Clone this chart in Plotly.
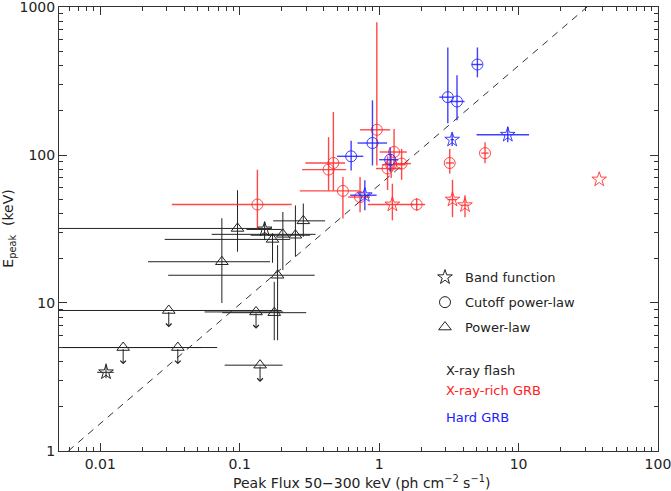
import numpy as np
import plotly.graph_objects as go

# ---- X-ray flashes (black) ----
xrf_band_x = [0.011, 0.151]
xrf_band_xlo = [0.0095, 0.112]
xrf_band_xhi = [0.0125, 0.20]
xrf_band_y = [3.4, 31.4]
xrf_band_ylo = [3.1, 26.6]
xrf_band_yhi = [3.9, 35.5]

xrf_pl_x = [0.0965, 0.172, 0.204, 0.251, 0.286, 0.0745, 0.187, 0.177]
xrf_pl_xlo = [0.001, 0.029, 0.063, 0.12, 0.174, 0.022, 0.0307, 0.075]
xrf_pl_xhi = [0.17, 0.23, 0.35, 0.32, 0.41, 0.165, 0.345, 0.30]
xrf_pl_y = [31.9, 26.9, 29.1, 28.7, 35.9, 19.0, 15.4, 8.6]
xrf_pl_ylo = [22.2, 18.7, 16.7, 20.6, 28.0, 10.0, 5.6, 5.6]
xrf_pl_yhi = [57.8, 29.6, 41.2, 45.6, 47.0, 37.4, 24.6, 13.9]

# power-law upper limits
xrf_ul_x = [0.0146, 0.036, 0.031, 0.131, 0.140]
xrf_ul_xlo = [0.001, 0.001, 0.001, 0.056, 0.078]
xrf_ul_xhi = [0.054, 0.069, 0.20, 0.205, 0.203]
xrf_ul_y = [5.0, 5.0, 8.9, 8.7, 3.8]

# ---- X-ray-rich GRBs (red) ----
xrr_cpl_x = [0.134, 0.963, 0.47, 0.434, 0.55, 0.73, 1.86, 1.28, 1.45, 1.15, 1.22, 5.75, 3.21]
xrr_cpl_xlo = [0.0326, 0.73, 0.296, 0.28, 0.27, 0.60, 1.69, 1.01, 1.26, 0.95, 1.05, 5.4, 3.0]
xrr_cpl_xhi = [0.236, 1.2, 0.57, 0.58, 0.72, 0.86, 2.14, 1.58, 1.69, 1.45, 1.55, 6.1, 3.45]
xrr_cpl_y = [46.3, 148.0, 88.3, 79.7, 57.2, 52.0, 46.3, 104.8, 87.5, 81.0, 86.0, 103.0, 88.3]
xrr_cpl_ylo = [31.9, 85.0, 57.5, 57.5, 37.3, 41.0, 42.0, 80.0, 68.0, 58.0, 70.0, 88.0, 75.0]
xrr_cpl_yhi = [79.5, 788.0, 195.0, 132.0, 71.0, 71.0, 51.0, 150.0, 110.0, 98.0, 102.0, 122.0, 110.0]

xrr_band_x = [1.245, 3.36, 4.13, 37.9]
xrr_band_xlo = [0.83, 3.1, 3.85, 37.9]
xrr_band_xhi = [1.75, 3.6, 4.4, 37.9]
xrr_band_y = [46.3, 50.0, 45.8, 68.3]
xrr_band_ylo = [36.2, 38.0, 38.0, 68.3]
xrr_band_yhi = [64.0, 68.0, 53.5, 68.3]

# ---- Hard GRBs (blue) ----
hard_cpl_x = [5.07, 3.11, 3.62, 0.63, 0.896, 1.2]
hard_cpl_xlo = [4.6, 2.7, 3.2, 0.5, 0.70, 1.0]
hard_cpl_xhi = [5.5, 3.4, 4.1, 0.77, 1.14, 1.37]
hard_cpl_y = [409.0, 246.0, 230.0, 98.0, 120.5, 93.0]
hard_cpl_ylo = [335.0, 164.0, 172.0, 78.7, 85.0, 77.0]
hard_cpl_yhi = [533.0, 533.0, 346.0, 125.0, 234.0, 113.0]

hard_band_x = [0.79, 3.34, 8.37]
hard_band_xlo = [0.62, 3.25, 5.0]
hard_band_xhi = [0.96, 3.45, 11.9]
hard_band_y = [53.5, 127.0, 137.0]
hard_band_ylo = [42.4, 115.0, 122.0]
hard_band_yhi = [67.5, 140.0, 156.0]

# dashed reference line
diag_x = [0.0059, 31.0]
diag_y = [1.0, 1000.0]

BLACK = '#222222'
RED = 'rgba(255,40,40,0.85)'
BLUE = 'rgba(30,30,255,0.85)'
FONT = 'DejaVu Sans'

fig = go.Figure()

fig.add_trace(go.Scatter(x=diag_x, y=diag_y, mode='lines',
                         line=dict(color='#333333', width=1, dash='7px,6px'),
                         showlegend=False, hoverinfo='skip'))


def add_points(x, xlo, xhi, y, ylo, yhi, symbol, color, size, thick):
    x = np.array(x); xlo = np.array(xlo); xhi = np.array(xhi)
    y = np.array(y); ylo = np.array(ylo); yhi = np.array(yhi)
    fig.add_trace(go.Scatter(
        x=x, y=y, mode='markers',
        marker=dict(symbol=symbol, size=size, color=color, line=dict(width=1)),
        error_x=dict(type='data', symmetric=False, array=xhi - x, arrayminus=x - xlo,
                     color=color, thickness=thick, width=0),
        error_y=dict(type='data', symmetric=False, array=yhi - y, arrayminus=y - ylo,
                     color=color, thickness=thick, width=0),
        showlegend=False, hoverinfo='skip'))


add_points(xrf_band_x, xrf_band_xlo, xrf_band_xhi, xrf_band_y, xrf_band_ylo, xrf_band_yhi,
           'star-open', BLACK, 11, 1)
add_points(xrf_pl_x, xrf_pl_xlo, xrf_pl_xhi, xrf_pl_y, xrf_pl_ylo, xrf_pl_yhi,
           'triangle-up-open', BLACK, 11, 1)
add_points(xrf_ul_x, xrf_ul_xlo, xrf_ul_xhi, xrf_ul_y, xrf_ul_y, xrf_ul_y,
           'triangle-up-open', BLACK, 11, 1)
add_points(xrr_cpl_x, xrr_cpl_xlo, xrr_cpl_xhi, xrr_cpl_y, xrr_cpl_ylo, xrr_cpl_yhi,
           'circle-open', RED, 11, 1.4)
add_points(xrr_band_x, xrr_band_xlo, xrr_band_xhi, xrr_band_y, xrr_band_ylo, xrr_band_yhi,
           'star-open', RED, 11, 1.4)
add_points(hard_cpl_x, hard_cpl_xlo, hard_cpl_xhi, hard_cpl_y, hard_cpl_ylo, hard_cpl_yhi,
           'circle-open', BLUE, 11, 1.4)
add_points(hard_band_x, hard_band_xlo, hard_band_xhi, hard_band_y, hard_band_ylo, hard_band_yhi,
           'star-open', BLUE, 11, 1.4)

# upper-limit arrows
for xv, yv in zip(xrf_ul_x, xrf_ul_y):
    fig.add_annotation(x=np.log10(xv), y=np.log10(yv * 0.77), ax=np.log10(xv), ay=np.log10(yv),
                       xref='x', yref='y', axref='x', ayref='y', text='', showarrow=True,
                       arrowhead=4, arrowsize=1.1, arrowwidth=1, arrowcolor=BLACK, standoff=0)

# legend entries (symbols)
for i, (name, sym) in enumerate([('Band function', 'star-open'), ('Cutoff power-law', 'circle-open'),
                                 ('Power-law', 'triangle-up-open')]):
    fig.add_trace(go.Scatter(x=[None], y=[None], mode='markers', name=name, legendgroup='g%d' % i,
                             marker=dict(symbol=sym, size=11, color=BLACK, line=dict(width=1))))

for txt, col, yp in [('X-ray flash', BLACK, 0.1805), ('X-ray-rich GRB', '#ff2020', 0.1356),
                     ('Hard GRB', '#2020ff', 0.0764)]:
    fig.add_annotation(x=0.6424, y=yp, xref='paper', yref='paper', text=txt, showarrow=False,
                       xanchor='left', yanchor='middle', font=dict(family=FONT, size=13, color=col))

# axis titles
fig.add_annotation(x=0.5056, y=-0.069, xref='paper', yref='paper', showarrow=False,
                   text='Peak Flux 50\u2212300 keV (ph cm<sup>\u22122</sup> s<sup>\u22121</sup>)',
                   xanchor='center', yanchor='middle', font=dict(family=FONT, size=14, color='#222222'))
fig.add_annotation(x=-0.084, y=0.5, xref='paper', yref='paper', showarrow=False, textangle=-90,
                   text='E<sub>peak</sub>  (keV)',
                   xanchor='center', yanchor='middle', font=dict(family=FONT, size=14, color='#222222'))

minor_x = [m * 10.0 ** e for e in range(-3, 2) for m in range(2, 10)]
minor_y = [m * 10.0 ** e for e in range(0, 3) for m in range(2, 10)]

fig.update_xaxes(type='log', range=[np.log10(0.00506), 2.0002], automargin=False,
                 tickvals=[0.01, 0.1, 1, 10, 100], ticktext=['0.01', '0.1', '1', '10', '100'],
                 ticklabeloverflow='allow',
                 ticks='inside', ticklen=8, tickcolor='#333333', mirror='allticks',
                 showline=True, linecolor='#333333', linewidth=1, showgrid=False, zeroline=False,
                 minor=dict(tickvals=minor_x, ticks='inside', ticklen=4, tickcolor='#333333', showgrid=False),
                 tickfont=dict(family=FONT, size=14, color='#222222'))
fig.update_yaxes(type='log', range=[-0.0002, 3.0002], automargin=False,
                 tickvals=[1, 10, 100, 1000], ticktext=['1', '10', '100', '1000'],
                 ticklabeloverflow='allow',
                 ticks='inside', ticklen=8, tickcolor='#333333', mirror='allticks',
                 showline=True, linecolor='#333333', linewidth=1, showgrid=False, zeroline=False,
                 minor=dict(tickvals=minor_y, ticks='inside', ticklen=4, tickcolor='#333333', showgrid=False),
                 tickfont=dict(family=FONT, size=14, color='#222222'))

fig.update_layout(width=671, height=491, margin=dict(l=59, r=13, t=7, b=40),
                  plot_bgcolor='white', paper_bgcolor='white',
                  font=dict(family=FONT, size=14, color='#222222'),
                  showlegend=True,
                  legend=dict(x=0.611, y=0.425, xanchor='left', yanchor='top', tracegroupgap=5,
                              bgcolor='rgba(0,0,0,0)', font=dict(family=FONT, size=13, color=BLACK)))

# the page body has a default 8px margin; remove it so the figure fills the window
fig.write_html("out.html", config={'displayModeBar': False},
               post_script="document.body.style.margin='0';")
